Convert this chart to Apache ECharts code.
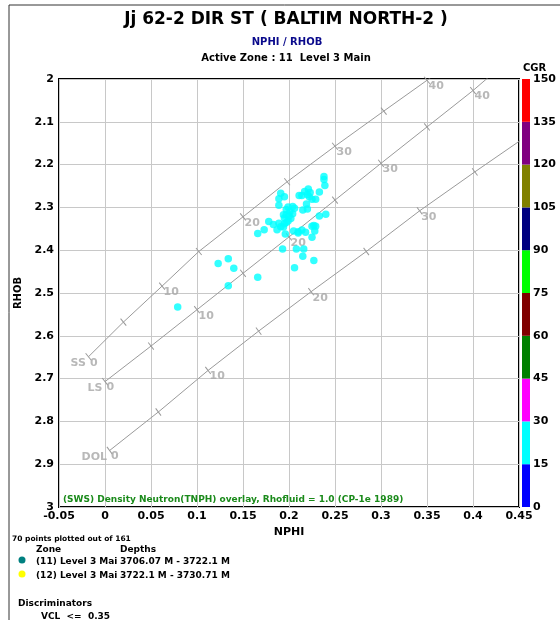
<!DOCTYPE html>
<html>
<head>
<meta charset="utf-8">
<title>NPHI / RHOB</title>
<script src="https://cdn.jsdelivr.net/npm/echarts@6/dist/echarts.min.js"></script>
<style>
  html, body { margin: 0; padding: 0; background: #fff; }
  #chart { width: 560px; height: 620px; }
</style>
</head>
<body>
<div id="chart"></div>
<script>
// zone 11 points (NPHI, RHOB)
var ptNphi = [0.238, 0.238, 0.239, 0.233, 0.217, 0.221, 0.223, 0.222, 0.229, 0.225,
  0.211, 0.214, 0.191, 0.195, 0.189, 0.189, 0.219, 0.215, 0.220, 0.204,
  0.199, 0.201, 0.204, 0.197, 0.195, 0.199, 0.197, 0.240, 0.233, 0.178,
  0.183, 0.189, 0.187, 0.194, 0.195, 0.173, 0.166, 0.196, 0.205, 0.210,
  0.214, 0.218, 0.225, 0.229, 0.228, 0.225, 0.193, 0.208, 0.216, 0.215,
  0.227, 0.206, 0.123, 0.134, 0.140, 0.166, 0.134, 0.079, 0.197, 0.200,
  0.202, 0.194, 0.206, 0.191, 0.227, 0.220, 0.210];
var ptRhob = [2.228, 2.235, 2.249, 2.264, 2.263, 2.257, 2.265, 2.275, 2.281, 2.281,
  2.272, 2.272, 2.267, 2.275, 2.280, 2.295, 2.292, 2.306, 2.304, 2.298,
  2.299, 2.310, 2.315, 2.317, 2.325, 2.332, 2.335, 2.316, 2.320, 2.333,
  2.340, 2.337, 2.352, 2.346, 2.338, 2.352, 2.361, 2.362, 2.355, 2.360,
  2.353, 2.358, 2.344, 2.344, 2.355, 2.370, 2.397, 2.397, 2.397, 2.414,
  2.424, 2.441, 2.431, 2.420, 2.442, 2.463, 2.483, 2.533, 2.305, 2.320,
  2.326, 2.317, 2.302, 2.345, 2.342, 2.270, 2.357];

// CP-1e lithology lines, porosity ticks every 5 p.u.
var poroTicks = [0, 5, 10, 15, 20, 25, 30, 35, 40];
var ssNphi = [-0.018, 0.020, 0.062, 0.102, 0.150, 0.198, 0.250, 0.303, 0.350, 0.358];
var ssRhob = [2.649, 2.568, 2.484, 2.403, 2.322, 2.240, 2.157, 2.075, 2.003, 1.99];
var lsNphi = [0.000, 0.050, 0.100, 0.150, 0.200, 0.250, 0.300, 0.350, 0.400, 0.420];
var lsRhob = [2.707, 2.624, 2.539, 2.454, 2.369, 2.283, 2.197, 2.112, 2.027, 1.99];
var dolNphi = [0.005, 0.058, 0.112, 0.167, 0.224, 0.284, 0.342, 0.402, 0.46];
var dolRhob = [2.868, 2.778, 2.681, 2.589, 2.497, 2.403, 2.308, 2.217, 2.131];

// CGR colour scale
var cgrTicks = [0, 15, 30, 45, 60, 75, 90, 105, 120, 135, 150];
var cgrColors = ['#0000ff', '#00ffff', '#ff00ff', '#008000', '#800000',
  '#00ff00', '#000080', '#808000', '#800080', '#ff0000'];

var chart = echarts.init(document.getElementById('chart'));
var FONT = 'DejaVu Sans';
var GREY = '#a6a6a6';

function lithoLine(name, xs, ys, angle) {
  var data = [];
  for (var i = 0; i < xs.length; i++) {
    var isTick = i < poroTicks.length;
    data.push({
      value: [xs[i], ys[i]],
      symbol: isTick ? 'rect' : 'none',
      symbolSize: [1, 9],
      symbolRotate: angle
    });
  }
  return {
    name: name, type: 'line', data: data, silent: true,
    lineStyle: { color: '#9a9a9a', width: 1 },
    itemStyle: { color: '#9a9a9a' },
    z: 3
  };
}

function lithoLabels(name, xs, ys, tag, tagOffset) {
  var data = [];
  for (var i = 0; i < poroTicks.length && i < xs.length; i++) {
    if (poroTicks[i] % 10 != 0) continue;
    if (ys[i] < 2.0) continue;
    data.push({ value: [xs[i], ys[i]], label: { formatter: String(poroTicks[i]) } });
  }
  var labels = {
    name: name + ' lbl', type: 'scatter', data: data, symbolSize: 1, silent: true,
    itemStyle: { color: 'rgba(0,0,0,0)' },
    label: { show: true, position: 'right', distance: 1, offset: [0, 6],
      color: GREY, fontFamily: FONT, fontWeight: 'bold', fontSize: 11 },
    z: 4
  };
  var tagSeries = {
    name: name + ' tag', type: 'scatter', symbolSize: 1, silent: true,
    data: [{ value: [xs[0], ys[0]] }],
    itemStyle: { color: 'rgba(0,0,0,0)' },
    label: { show: true, position: 'left', distance: 2, offset: tagOffset, formatter: tag,
      color: GREY, fontFamily: FONT, fontWeight: 'bold', fontSize: 11 },
    z: 4
  };
  return [labels, tagSeries];
}

var points = [];
for (var i = 0; i < ptNphi.length; i++) points.push([ptNphi[i], ptRhob[i]]);

var series = [
  lithoLine('SS', ssNphi, ssRhob, 39),
  lithoLine('LS', lsNphi, lsRhob, 38),
  lithoLine('DOL', dolNphi, dolRhob, 37)
];
series = series.concat(lithoLabels('SS', ssNphi, ssRhob, 'SS', [0, 6]));
series = series.concat(lithoLabels('LS', lsNphi, lsRhob, 'LS', [0, 7]));
series = series.concat(lithoLabels('DOL', dolNphi, dolRhob, 'DOL', [0, 7]));
series.push({
  name: 'Zone 11', type: 'scatter', data: points, symbolSize: 7.5,
  itemStyle: { color: '#00ffff' }, z: 5
});
for (var k = 0; k < cgrColors.length; k++) {
  series.push({
    name: 'cgr' + k, type: 'bar', xAxisIndex: 1, yAxisIndex: 1, stack: 'cgr',
    data: [cgrTicks[k + 1] - cgrTicks[k]], barWidth: '100%', silent: true,
    itemStyle: { color: cgrColors[k] }
  });
}

var boldTxt = function (size, color) {
  return { fontFamily: FONT, fontWeight: 'bold', fontSize: size, fill: color || '#000' };
};

var option = {
  animation: false,
  grid: [
    { left: 59, top: 79, width: 460, height: 428, show: true,
      borderColor: '#000', borderWidth: 2, backgroundColor: '#fff' },
    { left: 522, top: 79, width: 8, height: 428 }
  ],
  xAxis: [
    { type: 'value', min: -0.05, max: 0.45, interval: 0.05,
      name: 'NPHI', nameLocation: 'middle', nameGap: 19,
      nameTextStyle: { fontFamily: FONT, fontWeight: 'bold', fontSize: 11, color: '#000' },
      axisLine: { show: false }, axisTick: { show: false },
      axisLabel: { fontFamily: FONT, fontWeight: 'bold', fontSize: 11, color: '#000', margin: 4 },
      splitLine: { lineStyle: { color: '#c8c8c8', width: 1 } } },
    { type: 'category', gridIndex: 1, data: ['CGR'], show: false }
  ],
  yAxis: [
    { type: 'value', min: 2, max: 3, interval: 0.1, inverse: true,
      name: 'RHOB', nameLocation: 'middle', nameGap: 30, nameRotate: 90,
      nameTextStyle: { fontFamily: FONT, fontWeight: 'bold', fontSize: 10, color: '#000' },
      axisLine: { show: false }, axisTick: { show: false },
      axisLabel: { fontFamily: FONT, fontWeight: 'bold', fontSize: 11, color: '#000', margin: 5 },
      splitLine: { lineStyle: { color: '#c8c8c8', width: 1 } } },
    { type: 'value', gridIndex: 1, min: 0, max: 150, interval: 15, position: 'right',
      name: 'CGR', nameLocation: 'end', nameGap: 4,
      nameTextStyle: { fontFamily: FONT, fontWeight: 'bold', fontSize: 10, color: '#000', align: 'left', padding: [0, 0, 0, -7] },
      axisLine: { show: false }, axisTick: { show: false }, splitLine: { show: false },
      axisLabel: { fontFamily: FONT, fontWeight: 'bold', fontSize: 11, color: '#000', margin: 3 } }
  ],
  series: series,
  graphic: [
    { type: 'line', shape: { x1: 9, y1: 5, x2: 560, y2: 5 }, style: { stroke: '#333', lineWidth: 1 } },
    { type: 'line', shape: { x1: 9, y1: 5, x2: 9, y2: 620 }, style: { stroke: '#333', lineWidth: 1 } },
    { type: 'text', x: 286, y: 20, style: Object.assign({ text: 'Jj 62-2 DIR ST ( BALTIM NORTH-2 )',
      textAlign: 'center', textVerticalAlign: 'middle' }, boldTxt(17)) },
    { type: 'text', x: 287, y: 42, style: Object.assign({ text: 'NPHI / RHOB',
      textAlign: 'center', textVerticalAlign: 'middle' }, boldTxt(10, '#0a0a8c')) },
    { type: 'text', x: 286, y: 58, style: Object.assign({ text: 'Active Zone : 11  Level 3 Main',
      textAlign: 'center', textVerticalAlign: 'middle' }, boldTxt(10)) },
    { type: 'text', x: 63, y: 500, z: 10, style: Object.assign({ text: '(SWS) Density Neutron(TNPH) overlay, Rhofluid = 1.0 (CP-1e 1989)',
      textVerticalAlign: 'middle' }, boldTxt(9, '#1a8a1a')) },
    { type: 'text', x: 12, y: 539, style: Object.assign({ text: '70 points plotted out of 161', textVerticalAlign: 'middle' }, boldTxt(7.5)) },
    { type: 'text', x: 36, y: 550, style: Object.assign({ text: 'Zone', textVerticalAlign: 'middle' }, boldTxt(9)) },
    { type: 'text', x: 120, y: 550, style: Object.assign({ text: 'Depths', textVerticalAlign: 'middle' }, boldTxt(9)) },
    { type: 'circle', shape: { cx: 22, cy: 560, r: 3.5 }, style: { fill: '#008080' } },
    { type: 'text', x: 36, y: 562, style: Object.assign({ text: '(11) Level 3 Mai', textVerticalAlign: 'middle' }, boldTxt(9)) },
    { type: 'text', x: 120, y: 562, style: Object.assign({ text: '3706.07 M - 3722.1 M', textVerticalAlign: 'middle' }, boldTxt(9)) },
    { type: 'circle', shape: { cx: 22, cy: 574, r: 3.5 }, style: { fill: '#ffff00' } },
    { type: 'text', x: 36, y: 576, style: Object.assign({ text: '(12) Level 3 Mai', textVerticalAlign: 'middle' }, boldTxt(9)) },
    { type: 'text', x: 120, y: 576, style: Object.assign({ text: '3722.1 M - 3730.71 M', textVerticalAlign: 'middle' }, boldTxt(9)) },
    { type: 'text', x: 18, y: 604, style: Object.assign({ text: 'Discriminators', textVerticalAlign: 'middle' }, boldTxt(9)) },
    { type: 'text', x: 41, y: 617, style: Object.assign({ text: 'VCL  <=  0.35', textVerticalAlign: 'middle' }, boldTxt(9)) }
  ]
};
chart.setOption(option);
</script>
</body>
</html>
